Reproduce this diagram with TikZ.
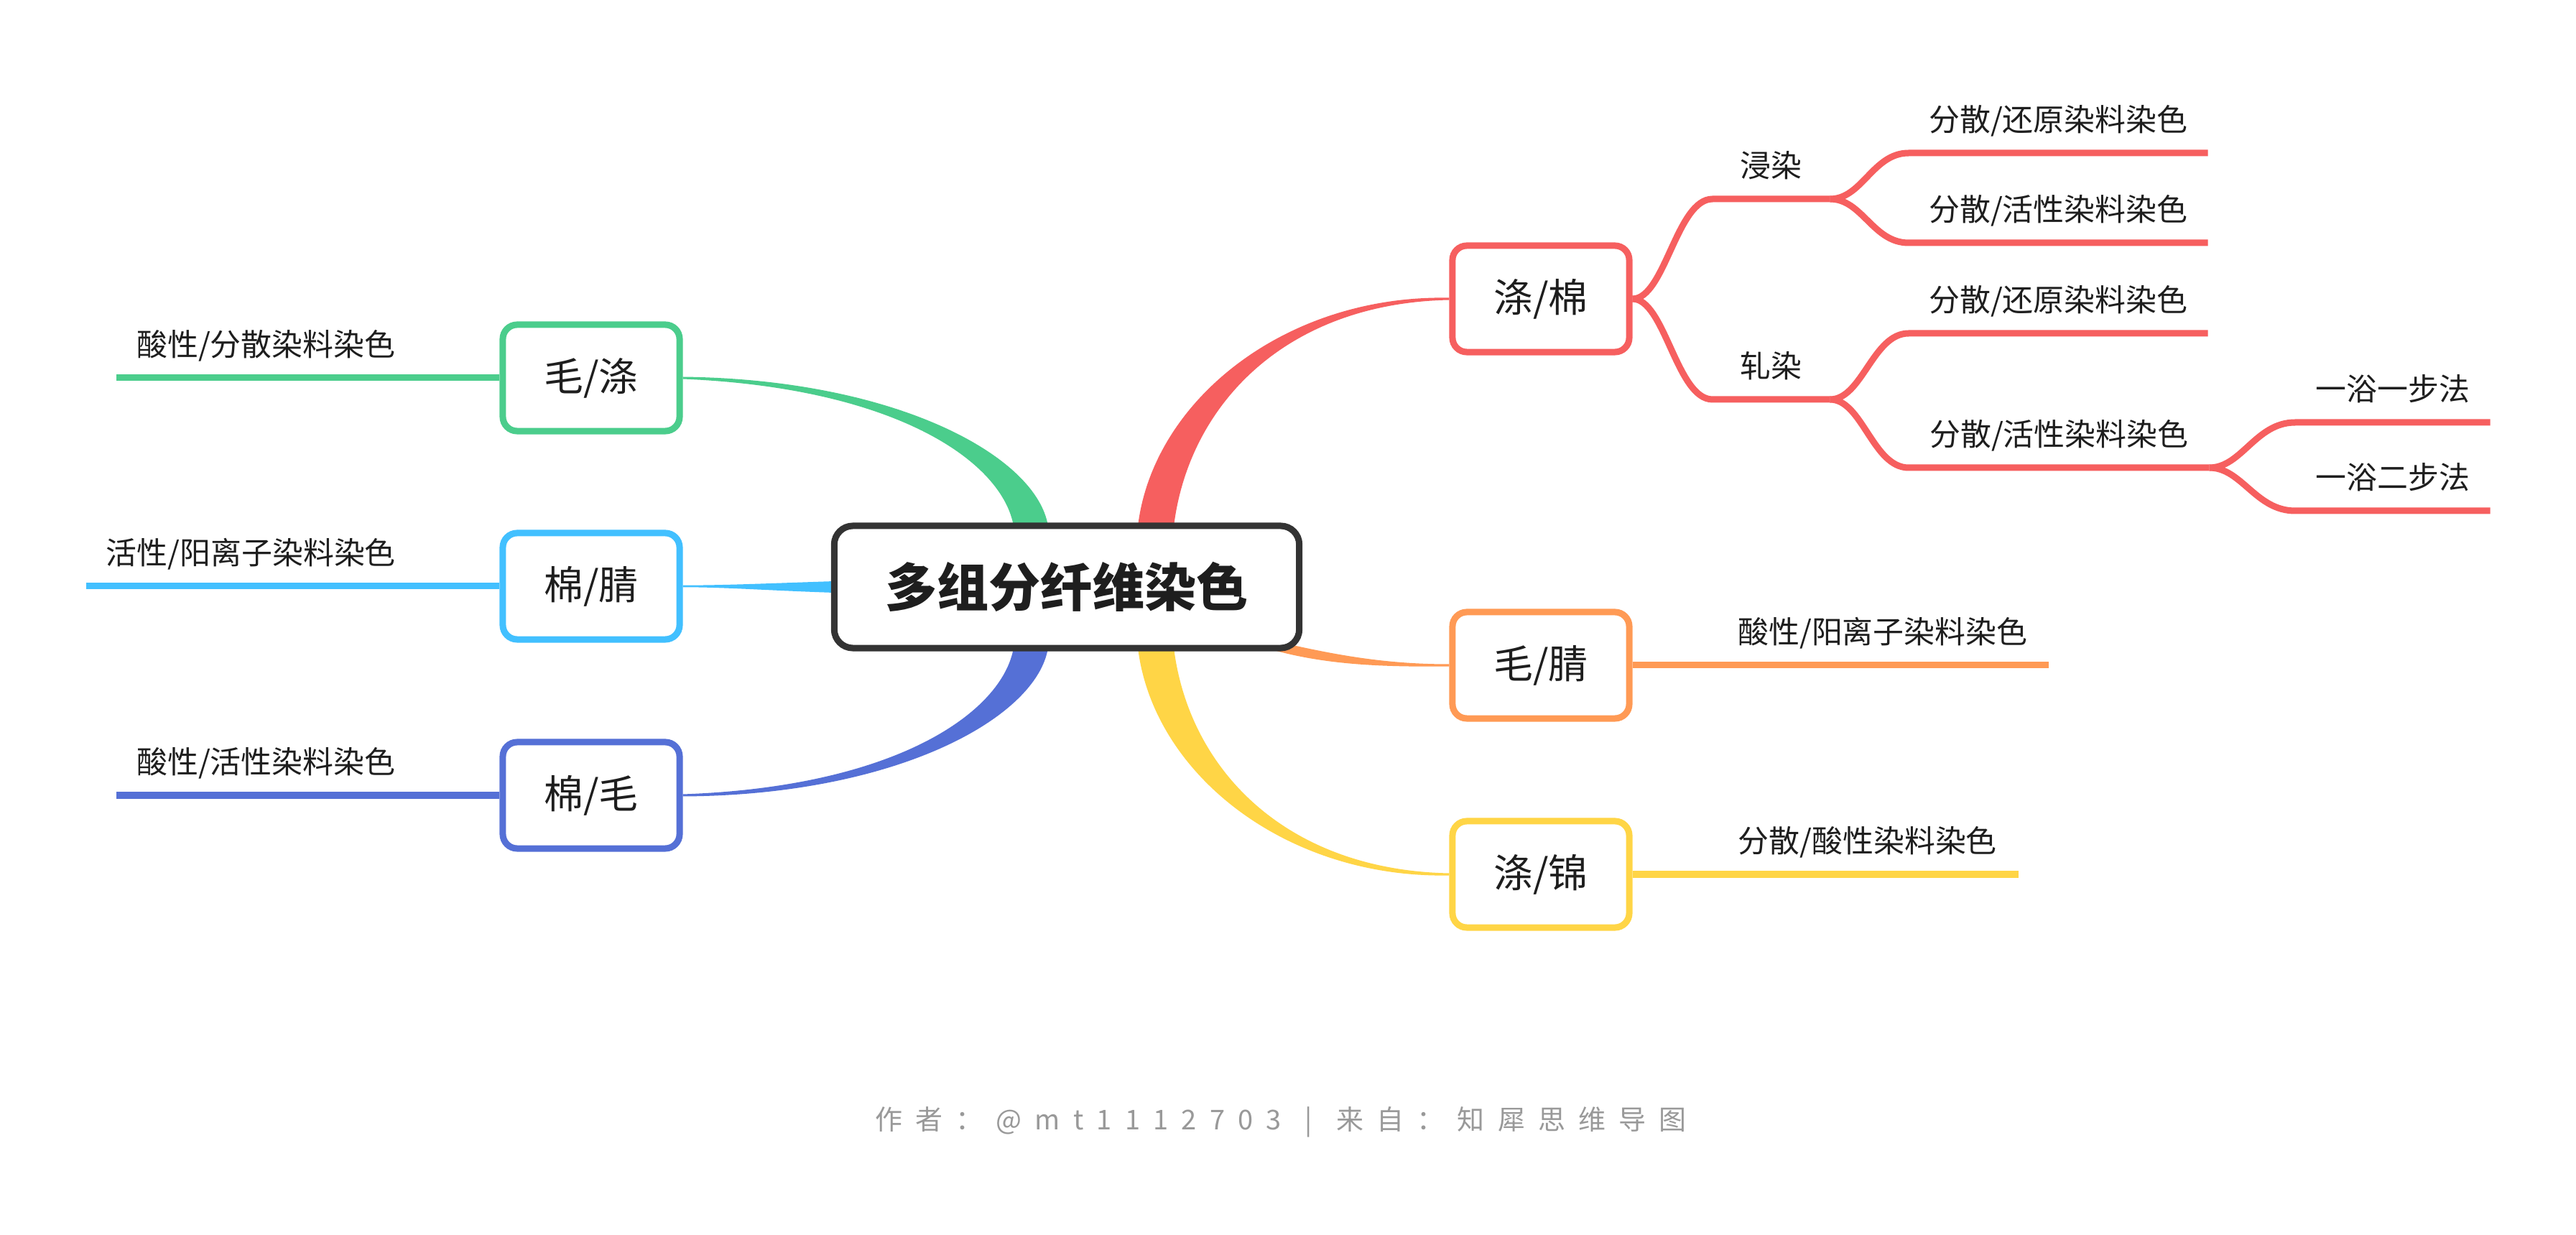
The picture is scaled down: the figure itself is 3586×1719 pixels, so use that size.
\documentclass[tikz,border=0pt]{standalone}
\usepackage{fontspec}
\setmainfont{Noto Sans CJK SC}
\usepackage{tikz}
\usetikzlibrary{calc, backgrounds}

\definecolor{cred}{HTML}{F65F5F}
\definecolor{corange}{HTML}{FF9A55}
\definecolor{cyellow}{HTML}{FFD546}
\definecolor{cgreen}{HTML}{4BCD8C}
\definecolor{csky}{HTML}{42C0FF}
\definecolor{cblue}{HTML}{5570D6}
\definecolor{cdark}{HTML}{333333}
\definecolor{ink}{HTML}{1E1E1E}
\definecolor{cfoot}{HTML}{999999}

\newcommand{\rootfont}{\fontsize{20.5}{24}\selectfont\bfseries}
\newcommand{\lonefont}{\fontsize{15.6}{18}\selectfont}
\newcommand{\lblfont}{\fontsize{12.2}{14}\selectfont}
\newcommand{\footfont}{\fontsize{10.8}{13}\selectfont\addfontfeatures{LetterSpace=48}}

\begin{document}
\begin{tikzpicture}[x=0.01cm, y=-0.01cm,
    root/.style={draw=cdark, line width=0.09cm, rounded corners=0.26cm, fill=white,
        minimum width=6.47cm, minimum height=1.70cm, inner sep=0pt, font=\rootfont, text=ink},
    branch/.style={draw=#1, line width=0.09cm, rounded corners=0.2cm, fill=white,
        minimum width=2.46cm, minimum height=1.48cm, inner sep=0pt, font=\lonefont, text=ink},
    lbl/.style={anchor=south west, inner xsep=0pt, inner ysep=0.3cm, text depth=0pt,
        font=\lblfont, text=ink},
    wire/.style={draw=#1, line width=0.09cm},
    foot/.style={font=\footfont, text=cfoot}]

    \useasboundingbox (0,0) rectangle (3586,1719);

    % ================= central topic =================
    \node[root] (root) at (1485,817) {多组分纤维染色};

    % ================= main branches =================
    \node[branch=cred] (pc) at (2145,416) {涤/棉};
    \node[branch=corange] (mj) at (2145,926) {毛/腈};
    \node[branch=cyellow] (dj) at (2145,1217) {涤/锦};
    \node[branch=cgreen] (md) at (823,526) {毛/涤};
    \node[branch=csky] (mq) at (823,816) {棉/腈};
    \node[branch=cblue] (mm) at (823,1107) {棉/毛};

    % ================= sub topics (text sits on its line) =================
    \node[lbl, minimum width=1.62cm] (jr) at (2384,277) {浸染};
    \node[lbl, minimum width=1.62cm] (zr) at (2384,556) {轧染};
    \node[lbl, minimum width=4.15cm] (jr1) at (2657,213) {分散/还原染料染色};
    \node[lbl, minimum width=4.15cm] (jr2) at (2657,338) {分散/活性染料染色};
    \node[lbl, minimum width=4.15cm] (zr1) at (2657,464) {分散/还原染料染色};
    \node[lbl, minimum width=4.17cm] (zr2) at (2657,651) {分散/活性染料染色};
    \node[lbl, minimum width=2.70cm] (zr21) at (3195,588) {一浴一步法};
    \node[lbl, minimum width=2.70cm] (zr22) at (3195,711) {一浴二步法};

    \node[lbl, minimum width=4.60cm] (mjc) at (2390,926) {酸性/阳离子染料染色};
    \node[lbl, minimum width=4.18cm] (djc) at (2390,1217) {分散/酸性染料染色};
    \node[lbl, minimum width=4.15cm] (mdc) at (162,526) {酸性/分散染料染色};
    \node[lbl, minimum width=4.57cm] (mqc) at (120,816) {活性/阳离子染料染色};
    \node[lbl, minimum width=4.15cm] (mmc) at (162,1107) {酸性/活性染料染色};

    % ================= wires =================
    \draw[wire=cred] (pc.east) .. controls ($(pc.east)+(45,0)$) and ($(jr.south west)+(-50,0)$) .. (jr.south west) -- (jr.south east);
    \draw[wire=cred] (pc.east) .. controls ($(pc.east)+(45,0)$) and ($(zr.south west)+(-50,0)$) .. (zr.south west) -- (zr.south east);
    \draw[wire=cred] (jr.south east) .. controls ($(jr.south east)+(45,0)$) and ($(jr1.south west)+(-50,0)$) .. (jr1.south west) -- (jr1.south east);
    \draw[wire=cred] (jr.south east) .. controls ($(jr.south east)+(45,0)$) and ($(jr2.south west)+(-50,0)$) .. (jr2.south west) -- (jr2.south east);
    \draw[wire=cred] (zr.south east) .. controls ($(zr.south east)+(45,0)$) and ($(zr1.south west)+(-50,0)$) .. (zr1.south west) -- (zr1.south east);
    \draw[wire=cred] (zr.south east) .. controls ($(zr.south east)+(45,0)$) and ($(zr2.south west)+(-50,0)$) .. (zr2.south west) -- (zr2.south east);
    \draw[wire=cred] (zr2.south east) .. controls ($(zr2.south east)+(45,0)$) and ($(zr21.south west)+(-55,0)$) .. (zr21.south west) -- (zr21.south east);
    \draw[wire=cred] (zr2.south east) .. controls ($(zr2.south east)+(45,0)$) and ($(zr22.south west)+(-55,0)$) .. (zr22.south west) -- (zr22.south east);

    \draw[wire=corange] (mj.east) -- (mjc.south west) -- (mjc.south east);
    \draw[wire=cyellow] (dj.east) -- (djc.south west) -- (djc.south east);
    \draw[wire=cgreen] (md.west) -- (mdc.south east) -- (mdc.south west);
    \draw[wire=csky] (mq.west) -- (mqc.south east) -- (mqc.south west);
    \draw[wire=cblue] (mm.west) -- (mmc.south east) -- (mmc.south west);

    % footer
    \node[foot] (src) at (1783,1562) {作者：@mt1112703 \,|\, 来自：知犀思维导图};

    % ================= tapered connectors, behind the boxes =================
    \begin{scope}[on background layer]
        \fill[white] (0,0) rectangle (3586,1719);
        % right side
        \fill[cred] ($(root.north)+(99,5)$) .. controls (1605,557) and (1790,410) .. ($(pc.west)+(0,-1.5)$)
            -- ($(pc.west)+(0,1.5)$) .. controls (1790,422) and (1655,563) .. ($(root.north)+(149,5)$) -- cycle;
        \fill[corange] ($(root.south east)+(-33,-13)$) .. controls (1860,912) and (1930,924.5) .. ($(mj.west)+(0,-1.5)$)
            -- ($(mj.west)+(0,1.5)$) .. controls (1930,928.5) and (1850,926) .. ($(root.south east)+(-38,-1)$) -- cycle;
        \fill[cyellow] ($(root.south)+(99,-5)$) .. controls (1605,1077) and (1790,1223) .. ($(dj.west)+(0,1.5)$)
            -- ($(dj.west)+(0,-1.5)$) .. controls (1790,1211) and (1655,1071) .. ($(root.south)+(149,-5)$) -- cycle;
        % left side
        \fill[cgreen] ($(root.north)+(-26,5)$) .. controls (1444,636) and (1250,528) .. ($(md.east)+(0,-1.5)$)
            -- ($(md.east)+(0,1.5)$) .. controls (1250,540) and (1396,644) .. ($(root.north)+(-74,5)$) -- cycle;
        \fill[csky] ($(root.west)+(5,-8)$) .. controls (1070,812) and (1010,814.7) .. ($(mq.east)+(0,-1.3)$)
            -- ($(mq.east)+(0,1.3)$) .. controls (1010,817.3) and (1070,822) .. ($(root.west)+(5,8)$) -- cycle;
        \fill[cblue] ($(root.south)+(-26,-5)$) .. controls (1444,998) and (1250,1107) .. ($(mm.east)+(0,1.5)$)
            -- ($(mm.east)+(0,-1.5)$) .. controls (1250,1095) and (1396,990) .. ($(root.south)+(-74,-5)$) -- cycle;
    \end{scope}

\end{tikzpicture}
\end{document}
